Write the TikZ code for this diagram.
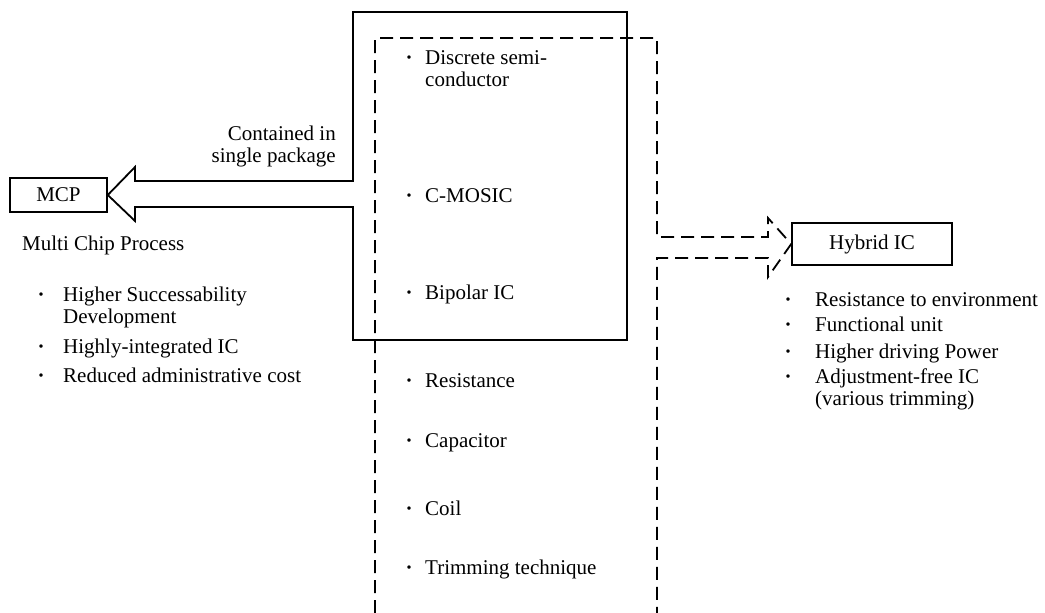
\documentclass[tikz,border=0pt]{standalone}
\usepackage{fontspec}
\setmainfont{Liberation Serif}
\newcommand\itm[2]{\makebox[#1][l]{\textbf{\textperiodcentered}}#2}
\begin{document}
\begin{tikzpicture}[x=1pt,y=-1pt,
  txt/.style={font=\fontsize{21}{22}\selectfont, inner sep=0pt, align=left},
  boxnode/.style={draw, line width=1.6pt, txt, align=center},
  solidline/.style={line width=1.8pt, line join=miter},
  dashline/.style={line width=1.8pt, dash pattern=on 13pt off 7pt}]
\useasboundingbox (0,0) rectangle (1045,613);
% boxes
\node[boxnode, minimum width=97pt, minimum height=34pt] (mcp) at (58.5,195) {MCP};
\node[boxnode, minimum width=160pt, minimum height=42pt] (hyb) at (872,244) {Hybrid IC};
% solid package outline with arrow to MCP
\draw[solidline] (mcp.east) -- (135,221) -- (135,207) -- (353,207) -- (353,340)
  -- (627,340) -- (627,12) -- (353,12) -- (353,181) -- (135,181) -- (135,167) -- cycle;
% dashed outline with arrow to Hybrid IC
\draw[dashline] (375,613) -- (375,38) -- (657,38) -- (657,237) -- (768,237) -- (768,218)
  -- (hyb.west) -- (768,277) -- (768,258) -- (657,258) -- (657,613);
% labels left
\node[txt, align=right, anchor=base east] (cont) at (336,162) {Contained in\\single package};
\node[txt, anchor=base west] (mcpname) at (22,250) {Multi Chip Process};
\node[txt, anchor=base west] (l1) at (37.5,323) {\itm{25.5pt}{Higher Successability}\\\hspace*{25.5pt}Development};
\node[txt, anchor=base west] (l2) at (37.5,353) {\itm{25.5pt}{Highly-integrated IC}};
\node[txt, anchor=base west] (l3) at (37.5,382) {\itm{25.5pt}{Reduced administrative cost}};
% inner items
\node[txt, anchor=base west] (i1) at (405.4,86) {\itm{19.6pt}{Discrete semi-}\\\hspace*{19.6pt}conductor};
\node[txt, anchor=base west] (i2) at (405.4,202) {\itm{19.6pt}{C-MOSIC}};
\node[txt, anchor=base west] (i3) at (405.4,299) {\itm{19.6pt}{Bipolar IC}};
\node[txt, anchor=base west] (i4) at (405.4,387) {\itm{19.6pt}{Resistance}};
\node[txt, anchor=base west] (i5) at (405.4,447) {\itm{19.6pt}{Capacitor}};
\node[txt, anchor=base west] (i6) at (405.4,515) {\itm{19.6pt}{Coil}};
\node[txt, anchor=base west] (i7) at (405.4,574) {\itm{19.6pt}{Trimming technique}};
% right items
\node[txt, anchor=base west] (r1) at (784.4,306) {\itm{30.6pt}{Resistance to environment}};
\node[txt, anchor=base west] (r2) at (784.4,331) {\itm{30.6pt}{Functional unit}};
\node[txt, anchor=base west] (r3) at (784.4,358) {\itm{30.6pt}{Higher driving Power}};
\node[txt, anchor=base west] (r4) at (784.4,405) {\itm{30.6pt}{Adjustment-free IC}\\\hspace*{30.6pt}(various trimming)};
\end{tikzpicture}
\end{document}
